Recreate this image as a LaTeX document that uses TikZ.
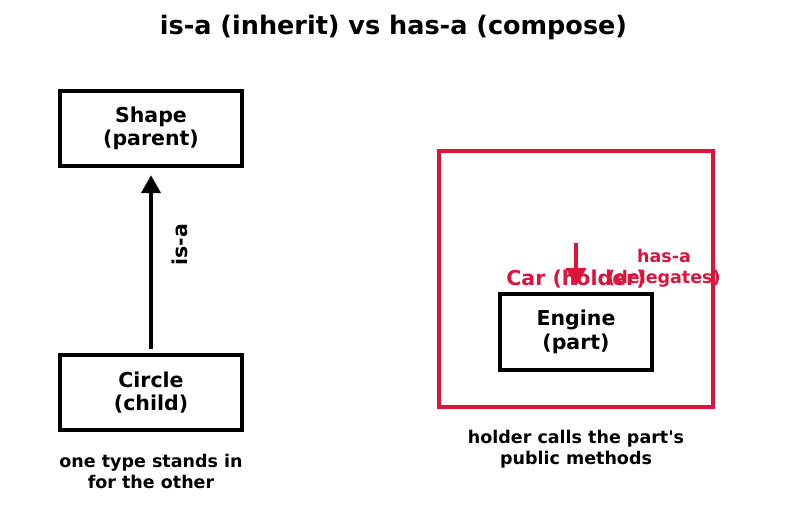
\documentclass[tikz,border=0pt]{standalone}
\usepackage{fontspec}
\setmainfont{DejaVu Sans}[Ligatures=TeXOff]
\usetikzlibrary{arrows.meta}
\definecolor{crim}{HTML}{DC143C}
\begin{document}
\begin{tikzpicture}[x=1pt,y=-1pt,
  box/.style={draw=black,line width=4.4pt,minimum width=182pt,minimum height=75pt,inner sep=0pt,align=center,font=\bfseries\fontsize{20.5}{23.5}\selectfont},
  captxt/.style={align=center,font=\bfseries\fontsize{17.5}{21}\selectfont},
  rl/.style={text=crim,align=center,font=\bfseries}]
\useasboundingbox (0,0) rectangle (787,512);
\node[font=\bfseries\fontsize{25.5}{28}\selectfont] (title) at (393.5,27) {is-a (inherit) vs has-a (compose)};
\node[box] (shape) at (151,128.5) {Shape\\(parent)};
\node[box] (circle) at (151,392.5) {Circle\\(child)};
\draw[line width=4.2pt,-{Triangle[length=18pt,width=19pt]}] ([yshift=4pt]circle.north) -- ([yshift=-7pt]shape.south);
\node[rotate=90,font=\bfseries\fontsize{20.5}{23}\selectfont] (isa) at (180,244.5) {is-a};
\node[captxt] (c1) at (151,471) {one type stands in\\for the other};
\node[draw=crim,line width=4.4pt,minimum width=274pt,minimum height=256pt,inner sep=0pt] (car) at (576,279) {};
\node[box,minimum width=152pt,minimum height=76pt] (engine) at (576,332) {Engine\\(part)};
\node[rl,font=\bfseries\fontsize{20.5}{23}\selectfont] (carl) at (576,279.5) {Car (holder)};
\coordinate (hs) at (576,243);
\draw[crim,line width=4.2pt,-{Triangle[length=18pt,width=20pt]}] (hs) -- (576,286);
\node[rl,font=\bfseries\fontsize{17.5}{21}\selectfont] (hasa) at (664,268) {has-a\\(delegates)};
\node[captxt] (c2) at (576,449) {holder calls the part's\\public methods};
\end{tikzpicture}
\end{document}
